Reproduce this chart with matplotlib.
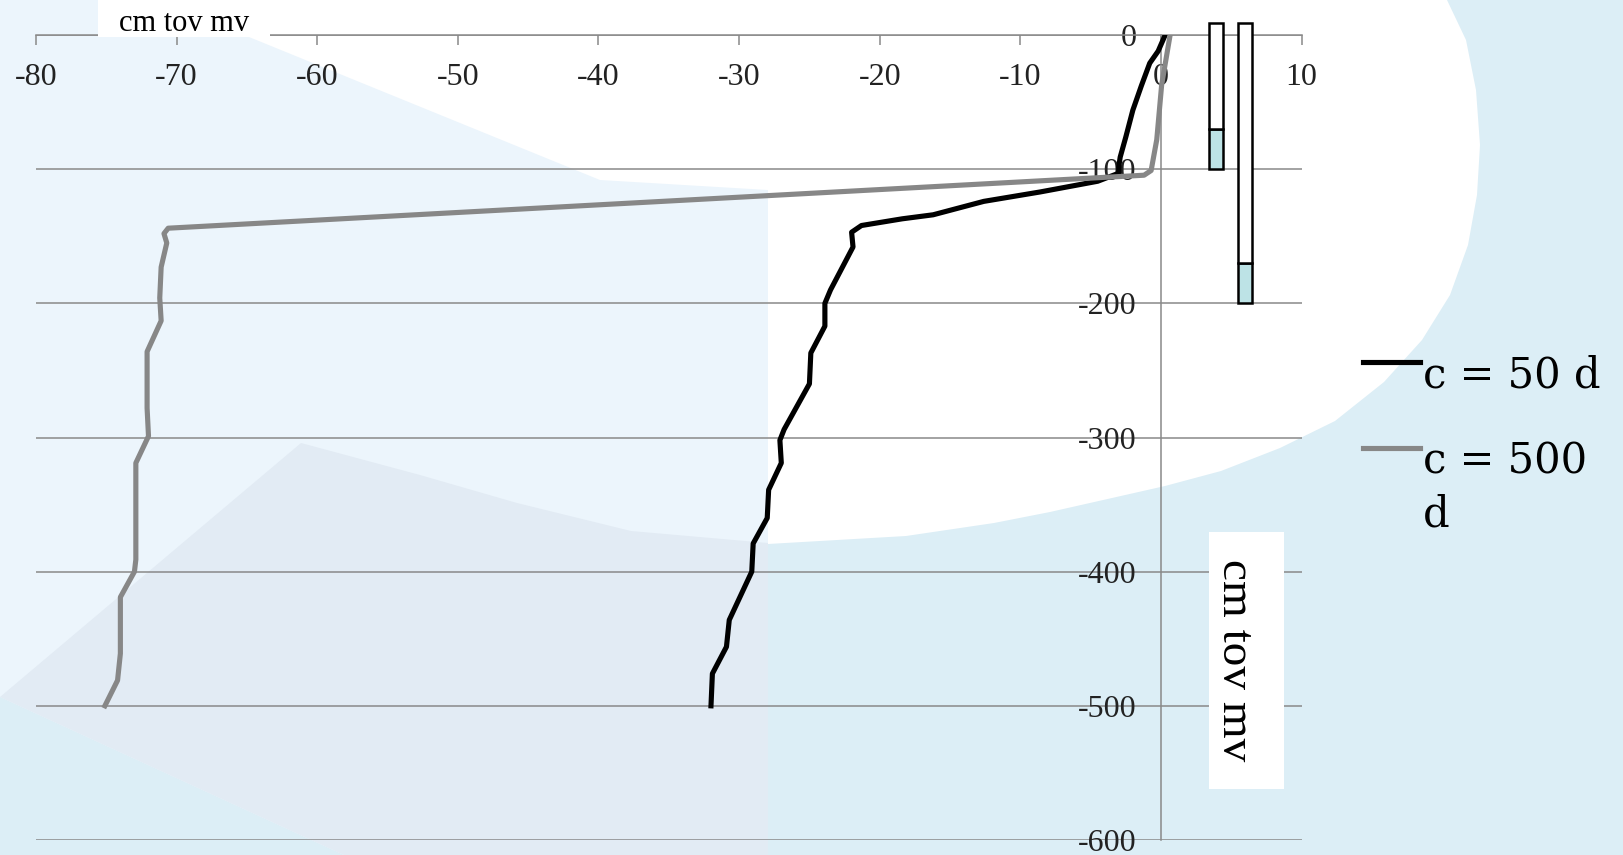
import matplotlib
matplotlib.use("Agg")
import matplotlib.pyplot as plt
from matplotlib.patches import Polygon, Rectangle

plt.rcParams["font.family"] = ["Liberation Serif", "DejaVu Serif"]
plt.rcParams["axes.unicode_minus"] = False

# stijghoogte (cm) tegen diepte (cm tov mv), twee weerstanden
depth_c50 = [0, -12, -21, -38, -56, -76, -91, -98, -103, -109, -117, -124, -134,
             -137, -142, -147, -158, -190, -200, -217, -237, -260, -294, -302,
             -319, -339, -360, -379, -400, -436, -456, -476, -500]
head_c50 = [0.3, -0.2, -0.8, -1.4, -2.0, -2.5, -2.9, -3.0, -3.0, -4.5, -8.6, -12.6,
            -16.2, -18.4, -21.3, -22.0, -21.9, -23.5, -23.9, -23.9, -24.9, -25.0,
            -26.8, -27.1, -27.0, -27.9, -28.0, -29.0, -29.1, -30.7, -30.9, -31.9, -32.0]

depth_c500 = [0, -37, -78, -101, -104.5, -144, -148, -155, -173, -196, -213, -236,
              -278, -299, -319, -391, -400, -419, -461, -481, -500]
head_c500 = [0.65, 0.05, -0.3, -0.7, -1.2, -70.6, -70.9, -70.7, -71.1, -71.2, -71.1,
             -72.1, -72.1, -72.0, -72.9, -72.9, -73.0, -74.0, -74.0, -74.2, -75.1]

series_labels = ["c = 50 d", "c = 500\nd"]
series_colors = ["#000000", "#878787"]

# buiskolommen: bovenkant, waterstand, onderkant
col_x = [3.9, 6.0]
col_top = [9, 9]
col_water = [-70, -170]
col_bottom = [-100, -200]

x_ticks = list(range(-80, 11, 10))
y_ticks = list(range(0, -601, -100))
axis_title = "cm tov mv"

W, H = 1623, 855
fig = plt.figure(figsize=(W / 100, H / 100), dpi=100)

# achtergrond van de dia
bg = fig.add_axes([0, 0, 1, 1], zorder=-10)
bg.set_xlim(0, W)
bg.set_ylim(H, 0)
bg.axis("off")
bg.add_patch(Rectangle((0, 0), W, H, color="#DCEEF6"))
bg.add_patch(Polygon([(0, 0), (1447, 0), (1466, 40), (1476, 90), (1480, 145),
                      (1477, 195), (1468, 245), (1450, 295), (1422, 340), (1384, 382),
                      (1335, 421), (1280, 448), (1221, 471), (1165, 486), (1112, 498),
                      (1050, 512), (994, 523), (906, 536), (768, 544), (0, 544)],
                     closed=True, color="white", lw=0))
bg.add_patch(Polygon([(0, 0), (160, 0), (249, 37), (600, 180), (768, 190), (768, 855),
                      (344, 855), (0, 697)], closed=True, color="#ECF5FC", lw=0))
bg.add_patch(Polygon([(0, 697), (301, 443), (420, 475), (517, 503), (631, 531),
                      (768, 543), (768, 855), (344, 855)], closed=True,
                     color="#E2EBF4", lw=0))

ax = fig.add_axes([36 / W, (H - 840) / H, (1301.6 - 36) / W, 805 / H])
ax.set_facecolor("none")
ax.set_xlim(-80, 10)
ax.set_ylim(-600, 0)

grid_col = "#898989"
for side in ["right", "bottom"]:
    ax.spines[side].set_visible(False)
ax.spines["top"].set_color(grid_col)
ax.spines["top"].set_linewidth(1.1)
ax.spines["left"].set_position(("data", 0))
ax.spines["left"].set_color(grid_col)
ax.spines["left"].set_linewidth(1.1)

ax.set_xticks(x_ticks)
ax.set_yticks(y_ticks)
ax.xaxis.tick_top()
ax.tick_params(axis="x", direction="in", length=7, width=1.1, color=grid_col,
               pad=-41, labelsize=23, labelcolor="#222222")
ax.tick_params(axis="y", length=0, pad=17.6, labelsize=23, labelcolor="#222222")
ax.set_axisbelow(True)
ax.yaxis.grid(True, color=grid_col, linewidth=1.1)

ax.plot(head_c50, depth_c50, color=series_colors[0], lw=3.7,
        solid_joinstyle="round", zorder=3)
ax.plot(head_c500, depth_c500, color=series_colors[1], lw=3.7,
        solid_joinstyle="round", zorder=3)

water_h = [w - b for w, b in zip(col_water, col_bottom)]
dry_h = [t - w for t, w in zip(col_top, col_water)]
ax.bar(col_x, water_h, bottom=col_bottom, width=1.0, color="#BDE3E6",
       edgecolor="black", lw=1.8, clip_on=False, zorder=4)
ax.bar(col_x, dry_h, bottom=col_water, width=1.0, color="white",
       edgecolor="black", lw=1.8, clip_on=False, zorder=4)

# bovenlaag: astitels en legenda
top = fig.add_axes([0, 0, 1, 1], zorder=5)
top.set_xlim(0, W)
top.set_ylim(H, 0)
top.axis("off")
top.add_patch(Rectangle((98, 0), 172, 37, color="white", lw=0))
top.text(184, 31, axis_title, fontsize=22, ha="center", va="baseline")
top.add_patch(Rectangle((1209, 532), 75, 257, color="white", lw=0))
top.text(1234, 660, axis_title, fontsize=34, rotation=-90,
         ha="center", va="center")

for i, (lab, col) in enumerate(zip(series_labels, series_colors)):
    y_line = 362 + i * 86
    top.plot([1363, 1420], [y_line, y_line], color=col, lw=3.7)
    for j, part in enumerate(lab.split("\n")):
        top.text(1423, y_line + 25.5 + j * 53, part, fontsize=30,
                 family="DejaVu Serif", ha="left", va="baseline")

fig.savefig("out.png", dpi=100)
